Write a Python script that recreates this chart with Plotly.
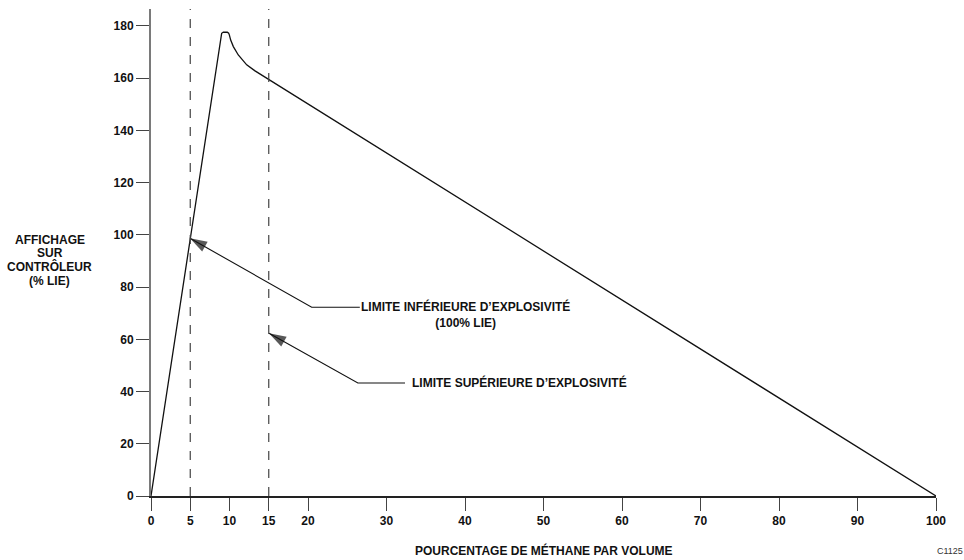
import plotly.graph_objects as go

# ---- data ----
methane_pct = [0, 8.92, 9.0, 9.21, 9.72, 9.89, 9.98, 10.15, 10.49, 11.12, 12.19, 13.25, 14.95, 100]
reading_lel = [0, 175.9, 177.2, 177.6, 177.6, 177.2, 176.6, 174.6, 172.1, 168.9, 165.1, 162.8, 159.6, 0]

limit_x = [5, 15]  # LIE / LSE (% methane)

x_ticks = [0, 5, 10, 15, 20, 30, 40, 50, 60, 70, 80, 90, 100]
y_ticks = [0, 20, 40, 60, 80, 100, 120, 140, 160, 180]

callout_texts = ["LIMITE INFÉRIEURE D’EXPLOSIVITÉ<br>(100% LIE)", "LIMITE SUPÉRIEURE D’EXPLOSIVITÉ"]
callout_tip_x = [4.97, 15.03]
callout_tip_y = [98.7, 62.3]
callout_tail_x = [20.47, 26.35]
callout_tail_y = [72.3, 43.3]
callout_shelf_x = [26.6, 32.36]
callout_text_x = [40.0, 47.0]
callout_text_y = [69.6, 43.3]

y_title_lines = ["AFFICHAGE", "SUR", "CONTRÔLEUR", "(% LIE)"]
y_title_pos = [98.0, 92.9, 87.7, 82.3]
x_title = "POURCENTAGE DE MÉTHANE PAR VOLUME"
figure_code = "C1125"

FONT = "Liberation Sans, Arial, Helvetica, sans-serif"
Y_TOP = 186.5

fig = go.Figure()
fig.add_trace(go.Scatter(x=methane_pct, y=reading_lel, mode="lines",
                         line=dict(color="#111111", width=1.3), hoverinfo="skip",
                         cliponaxis=False, showlegend=False))

# callout leader lines with arrowheads (shelf -> tail -> tip)
for sx, tx, ty, hx, hy in zip(callout_shelf_x, callout_tail_x, callout_tail_y,
                              callout_tip_x, callout_tip_y):
    fig.add_trace(go.Scatter(
        x=[sx, tx, hx], y=[ty, ty, hy], mode="lines+markers",
        line=dict(color="#111111", width=1.1),
        marker=dict(symbol="arrow", size=[0, 0, 18], angleref="previous",
                    color="#111111", line=dict(width=0)),
        hoverinfo="skip", cliponaxis=False, showlegend=False))

shapes = []
for lx in limit_x:
    shapes.append(dict(type="line", xref="x", yref="y", x0=lx, x1=lx, y0=0, y1=Y_TOP,
                       line=dict(color="#444444", width=1.2, dash="dash")))

annotations = []
for t, x, y in zip(callout_texts, callout_text_x, callout_text_y):
    annotations.append(dict(x=x, y=y, xref="x", yref="y", text=t, showarrow=False,
                            xanchor="center", yanchor="middle",
                            font=dict(family=FONT, size=12, color="#111111", weight="bold")))
for t, y in zip(y_title_lines, y_title_pos):
    annotations.append(dict(x=-0.1287, y=y, xref="paper", yref="y", text=t, showarrow=False,
                            xanchor="center", yanchor="middle",
                            font=dict(family=FONT, size=12, color="#111111", weight="bold")))
annotations.append(dict(x=0.5, y=-0.112, xref="paper", yref="paper", text=x_title, showarrow=False,
                        xanchor="center", yanchor="middle",
                        font=dict(family=FONT, size=12, color="#111111", weight="bold")))
annotations.append(dict(x=1.0172, y=-0.112, xref="paper", yref="paper", text=figure_code,
                        showarrow=False, xanchor="center", yanchor="middle",
                        font=dict(family=FONT, size=9, color="#333333")))

fig.update_layout(
    width=964, height=560,
    margin=dict(l=151, r=28, t=9, b=64),
    paper_bgcolor="white", plot_bgcolor="white",
    shapes=shapes, annotations=annotations,
    xaxis=dict(range=[0, 100], tickvals=x_ticks, ticktext=[str(v) for v in x_ticks],
               showgrid=False, zeroline=False, showline=True, linecolor="#222222", linewidth=1.5,
               ticks="outside", ticklen=13, tickwidth=1.3, tickcolor="#444444",
               tickfont=dict(family=FONT, size=12, color="#111111", weight="bold")),
    yaxis=dict(range=[0, Y_TOP], tickvals=y_ticks, ticktext=[str(v) for v in y_ticks],
               showgrid=False, zeroline=False, showline=True, linecolor="#7a7a7a", linewidth=2,
               ticks="outside", ticklen=13, tickwidth=1.3, tickcolor="#444444",
               tickfont=dict(family=FONT, size=12, color="#111111", weight="bold")),
)

fig.write_html("out.html", config={"displayModeBar": False},
               post_script="document.body.style.margin='0';document.body.style.overflow='hidden';")
